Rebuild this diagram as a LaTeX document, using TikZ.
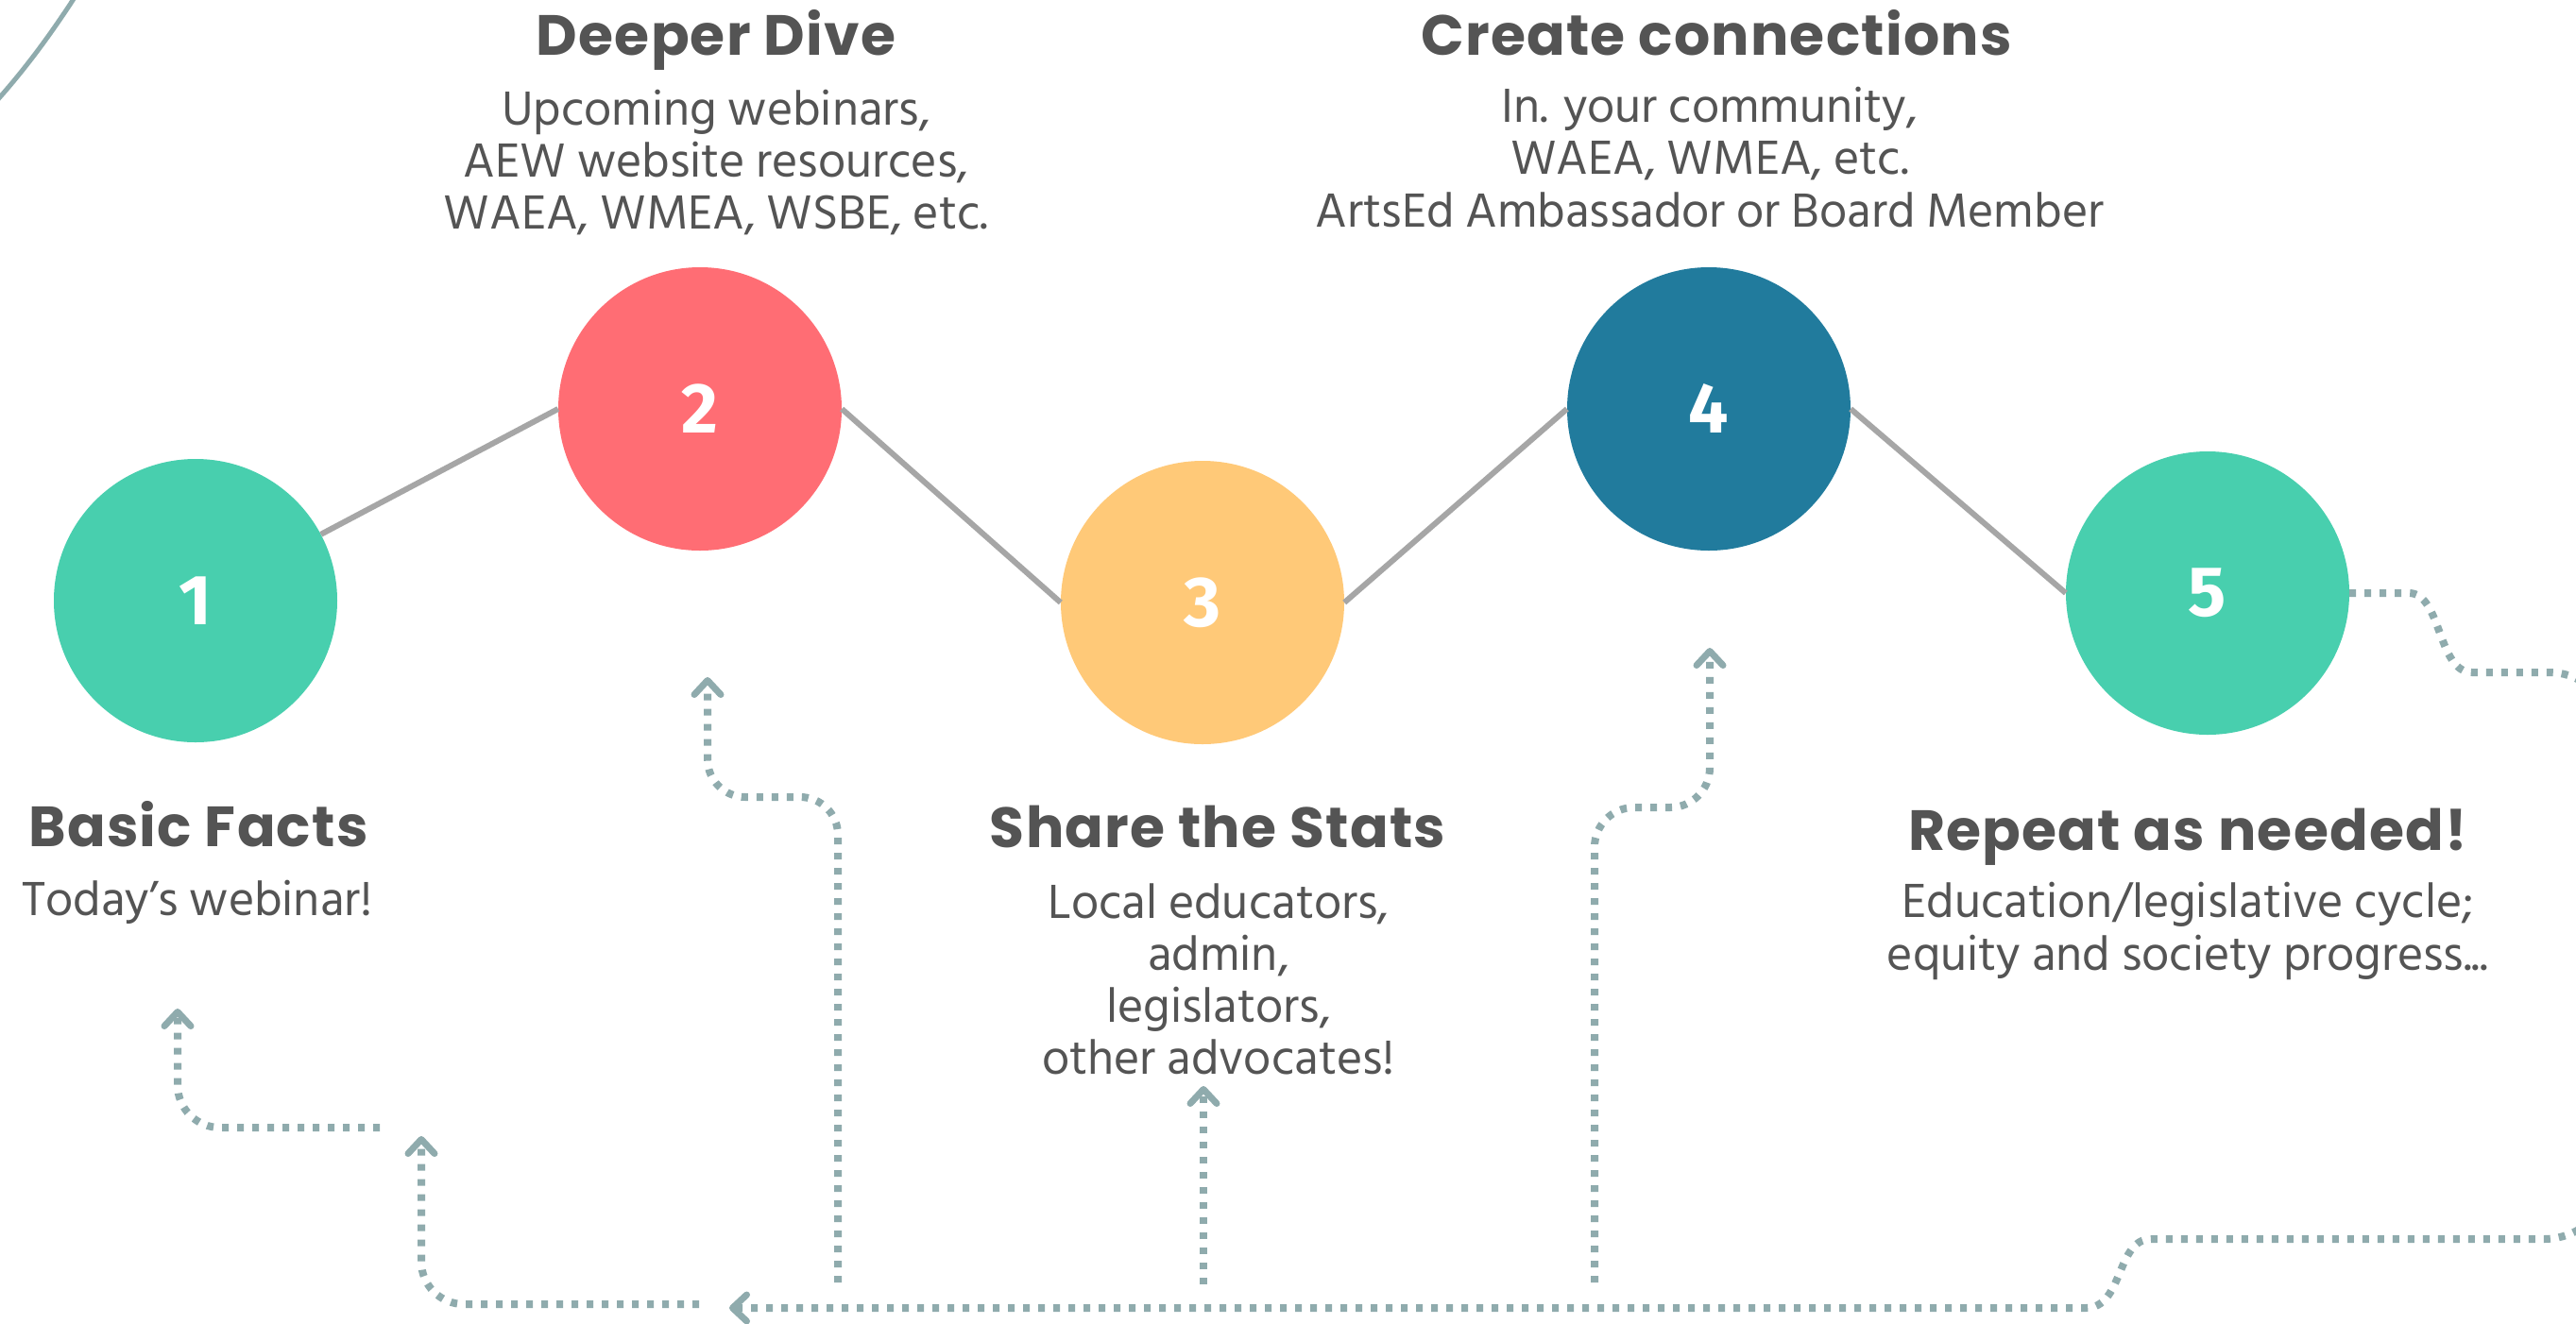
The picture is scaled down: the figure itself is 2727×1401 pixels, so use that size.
\documentclass[tikz,border=0pt]{standalone}
\usepackage{fontspec}
\usetikzlibrary{arrows.meta}
\newfontfamily\titlefont[LetterSpace=2]{Poppins}
\newfontfamily\bodyfont{Hind Siliguri}
\newfontfamily\numfont{Fira Sans}
\definecolor{cgreen}{HTML}{48CFAE}
\definecolor{cred}{HTML}{FF6D74}
\definecolor{cyellow}{HTML}{FFC978}
\definecolor{cblue}{HTML}{217B9D}
\definecolor{cline}{HTML}{A6A6A6}
\definecolor{cdot}{HTML}{8FABAD}
\definecolor{ctext}{HTML}{545454}
\tikzset{
  stepcirc/.style={circle, minimum size=300pt, inner sep=0pt, text=white,
    font=\numfont\bfseries\fontsize{75}{75}\selectfont},
  link/.style={draw=cline, line width=6pt},
  dots/.style={draw=cdot, line width=8pt, dash pattern=on 7pt off 9pt},
  tip/.style={-{Straight Barb[length=15pt,width=28pt,line width'=7pt,round]}},
  ttl/.style={font=\titlefont\bfseries\fontsize{60}{60}\selectfont, text=ctext, anchor=base, inner sep=0pt},
  bdy/.style={font=\bodyfont\fontsize{52}{52}\selectfont, text=ctext, anchor=base, inner sep=0pt}
}
\begin{document}
\begin{tikzpicture}[x=1pt,y=-1pt]
\useasboundingbox (0,0) rectangle (2727,1401);
\clip (0,0) rectangle (2727,1401);
\fill[white] (0,0) rectangle (2727,1401);

% decorative arc
\draw[cdot, line width=5pt] (-10,114) .. controls (30,70) and (58,30) .. (85,-12);

% circles
\node[stepcirc, fill=cgreen]  (n1) at (207,636) {1};
\node[stepcirc, fill=cred]    (n2) at (741,433) {2};
\node[stepcirc, fill=cyellow] (n3) at (1273,638) {3};
\node[stepcirc, fill=cblue]   (n4) at (1809,433) {4};
\node[stepcirc, fill=cgreen]  (n5) at (2337,628) {5};

% grey links
\draw[link] (n2.west) -- (n1);
\draw[link] (n2.east) -- (n3.west);
\draw[link] (n3.east) -- (n4.west);
\draw[link] (n4.east) -- (n5.west);

% titles and texts
\node[ttl] (t1) at (210,896) {Basic Facts};
\node[bdy] (b1) at (209,969) {Today’s webinar!};

\node[ttl] (t2) at (758,58) {Deeper Dive};
\node[bdy] (b2a) at (758,132) {Upcoming webinars,};
\node[bdy] (b2b) at (758,187) {AEW website resources,};
\node[bdy] (b2c) at (758,242) {WAEA, WMEA, WSBE, etc.};

\node[ttl] (t3) at (1289,897) {Share the Stats};
\node[bdy] (b3a) at (1290,972) {Local educators,};
\node[bdy] (b3b) at (1290,1027) {admin,};
\node[bdy] (b3c) at (1290,1082) {legislators,};
\node[bdy] (b3d) at (1290,1137) {other advocates!};

\node[ttl] (t4) at (1817,58) {Create connections};
\node[bdy] (b4a) at (1810,129) {In. your community,};
\node[bdy] (b4b) at (1810,184) {WAEA, WMEA, etc.};
\node[bdy] (b4c) at (1810,240) {ArtsEd Ambassador or Board Member};

\node[ttl] (t5) at (2316,900) {Repeat as needed!};
\node[bdy] (b5a) at (2316,971) {Education/legislative cycle;};
\node[bdy] (b5b) at (2316,1027) {equity and society progress...};

% dotted arrows
\coordinate (mainend) at (772,1385);
\coordinate (a1) at (188,1068);
\coordinate (a0) at (446,1203);
\coordinate (a2) at (749,717);
\coordinate (a3) at (1274,1150);
\coordinate (a4) at (1810,686);

\draw[dots, tip] (n5.east) -- (2550,628) .. controls (2585,628) and (2580,712) .. (2617,712)
  -- (2700,712) .. controls (2725,712) and (2760,730) .. (2760,770)
  -- (2760,1250) .. controls (2760,1290) and (2725,1312) .. (2693,1312)
  -- (2277,1312) .. controls (2240,1312) and (2248,1385) .. (2208,1385)
  -- (mainend);

\draw[dots, tip, rounded corners=40pt] (887,1358) -- (887,844) -- (749,844) -- (a2);
\draw[dots, tip, rounded corners=42pt] (1688,1358) -- (1688,855) -- (1810,855) -- (a4);
\draw[dots, tip] (1274,1360) -- (a3);
\draw[dots, tip, rounded corners=45pt] (402,1194) -- (188,1194) -- (a1);
\draw[dots, tip, rounded corners=45pt] (740,1381) -- (446,1381) -- (a0);
\end{tikzpicture}
\end{document}
